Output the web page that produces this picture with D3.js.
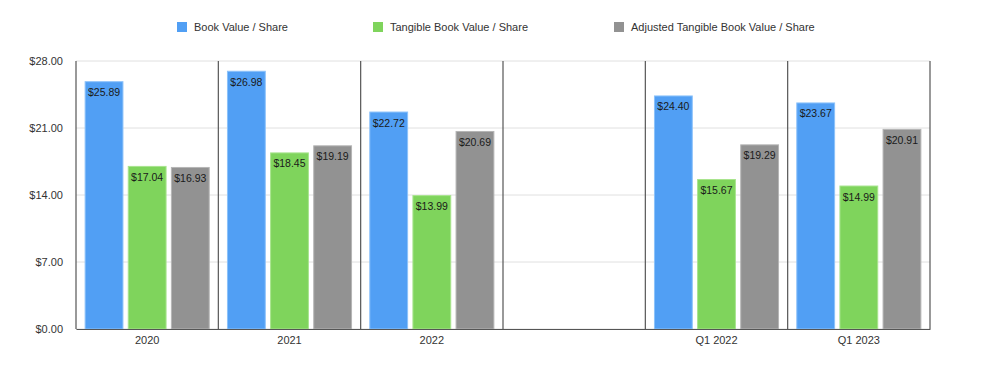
<!DOCTYPE html>
<meta charset="utf-8">
<html>
<head>
<style>
  body { margin: 0; background: #fff; }
  text { font-family: "Liberation Sans", Arial, sans-serif; }
</style>
</head>
<body>
<svg id="chart"></svg>
<script src="https://d3js.org/d3.v7.min.js"></script>
<script>

// categories (the 4th slot is an empty gap in the original chart)
var categories = ["2020", "2021", "2022", "", "Q1 2022", "Q1 2023"];
var seriesNames = ["Book Value / Share", "Tangible Book Value / Share", "Adjusted Tangible Book Value / Share"];
var bookValue = [25.89, 26.98, 22.72, null, 24.40, 23.67];
var tangibleBook = [17.04, 18.45, 13.99, null, 15.67, 14.99];
var adjTangibleBook = [16.93, 19.19, 20.69, null, 19.29, 20.91];
var yTicks = [0, 7, 14, 21, 28];

var colors = ["#519ff4", "#7fd45c", "#929292"];
var strokes = ["#8cc2fa", "#a8e48e", "#b5b5b5"];

var W = 982, H = 365;
var margin = {top: 61, right: 52, bottom: 36, left: 76},
    width = W - margin.left - margin.right,
    height = H - margin.top - margin.bottom;

var svg = d3.select("#chart").attr("width", W).attr("height", H);
var g = svg.append("g").attr("transform", "translate(" + margin.left + "," + margin.top + ")");

var keys = categories.map(function(c, i) { return "c" + i; });

var x0 = d3.scaleBand().domain(keys).range([0, width]).paddingInner(0).paddingOuter(0);
var x1 = d3.scaleBand().domain([0, 1, 2]).range([0, x0.bandwidth()]).paddingInner(0.1).paddingOuter(0.2);
var y = d3.scaleLinear().domain([0, 28]).range([height, 0]);

var fmt = d3.format("$.2f");

// gridlines
g.selectAll(".grid").data(yTicks).enter().append("line")
  .attr("x1", 0).attr("x2", width)
  .attr("y1", function(d) { return y(d); }).attr("y2", function(d) { return y(d); })
  .attr("stroke", "#e0e0e0").attr("stroke-width", 1);

// y labels
var yAxis = d3.axisLeft(y).tickValues(yTicks).tickFormat(fmt).tickSize(0).tickPadding(13);
g.append("g").call(yAxis)
  .call(function(a) { a.select(".domain").remove(); })
  .selectAll("text").attr("font-size", "11px").attr("fill", "#333").style("font-family", "Liberation Sans, Arial, sans-serif");

// data table
var rows = categories.map(function(c, i) {
  return {key: keys[i], label: c, vals: [bookValue[i], tangibleBook[i], adjTangibleBook[i]]};
});

var groups = g.selectAll(".cat").data(rows).enter().append("g")
  .attr("transform", function(d) { return "translate(" + x0(d.key) + ",0)"; });

function barData(d) {
  return d.vals.map(function(v, j) { return {v: v, j: j}; }).filter(function(e) { return e.v != null; });
}

groups.selectAll("rect").data(barData)
  .enter().append("rect")
  .attr("x", function(d) { return x1(d.j) + 0.5; })
  .attr("y", function(d) { return y(d.v) + 0.5; })
  .attr("width", x1.bandwidth() - 1)
  .attr("height", function(d) { return height - y(d.v) - 0.5; })
  .attr("fill", function(d) { return colors[d.j]; })
  .attr("stroke", function(d) { return strokes[d.j]; })
  .attr("stroke-width", 1);

groups.selectAll(".lbl").data(barData)
  .enter().append("text")
  .attr("x", function(d) { return x1(d.j) + x1.bandwidth() / 2; })
  .attr("y", function(d) { return y(d.v) + 15; })
  .attr("text-anchor", "middle")
  .attr("font-size", "10.5px")
  .attr("fill", "#1a1a1a")
  .text(function(d) { return fmt(d.v); });

// vertical separators
var seps = keys.map(function(k) { return x0(k); }).concat([width]);
g.selectAll(".sep").data(seps).enter().append("line")
  .attr("x1", function(d) { return d; }).attr("x2", function(d) { return d; })
  .attr("y1", 0).attr("y2", height)
  .attr("stroke", "#555").attr("stroke-width", 1.2);

// bottom axis
var xAxis = d3.axisBottom(x0).tickFormat(function(k, i) { return categories[i]; }).tickSize(0).tickPadding(7);
g.append("g").attr("transform", "translate(0," + height + ")").call(xAxis)
  .call(function(a) { a.select(".domain").attr("stroke", "#555").attr("stroke-width", 1.2); })
  .selectAll("text").attr("font-size", "11px").attr("fill", "#333").style("font-family", "Liberation Sans, Arial, sans-serif");

// legend
var legendX = [177, 373, 614];
var legend = svg.selectAll(".leg").data(seriesNames).enter().append("g")
  .attr("transform", function(d, i) { return "translate(" + legendX[i] + ",22)"; });
legend.append("rect").attr("width", 10).attr("height", 10).attr("fill", function(d, i) { return colors[i]; });
legend.append("text").attr("x", 17).attr("y", 9).attr("font-size", "11px").attr("fill", "#333").text(function(d) { return d; });

</script>
</body>
</html>
